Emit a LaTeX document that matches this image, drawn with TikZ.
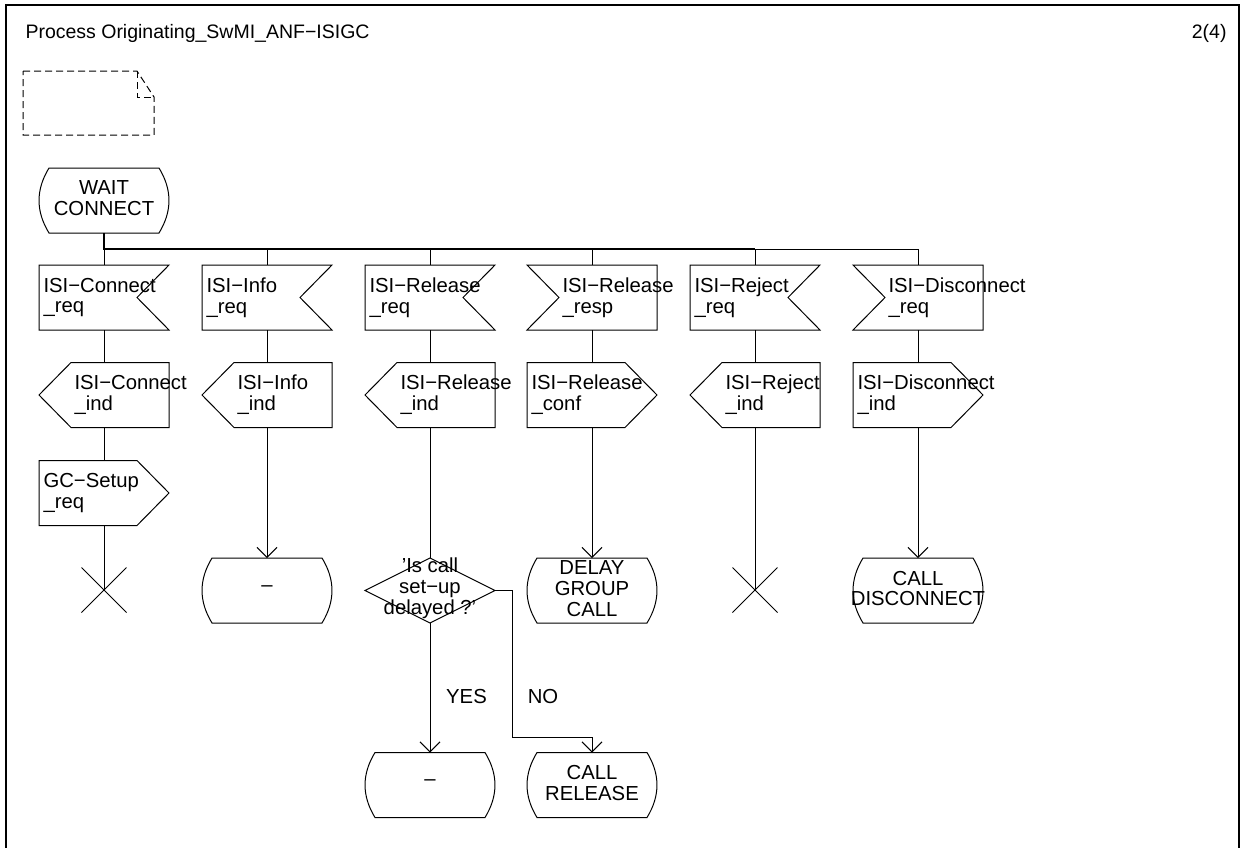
\documentclass[tikz,border=0pt]{standalone}
\usepackage{fontspec}
\setmainfont{Liberation Sans}
\usetikzlibrary{arrows.meta}
\newcommand\labfont{\fontsize{20.3}{20.8}\selectfont}
\newcommand\titlefont{\fontsize{19.5}{20.5}\selectfont}
\tikzset{
  box/.style={draw=none, inner sep=0pt, outer sep=0pt, minimum width=130pt, minimum height=65pt},
  txt/.style={inner sep=0pt, font=\labfont, align=left, anchor=west},
  ctxt/.style={inner sep=0pt, font=\labfont, align=center},
  flow/.style={-{Straight Barb[length=10pt,width=20pt]}},
  docline/.style={dash pattern=on 7pt off 4pt},
}
% SDL state: name, x, y, text
\newcommand\sdlstate[4]{%
  \node[box] (#1) at (#2,#3) {};
  \draw (#2-55,#3-32.5) -- (#2+55,#3-32.5) .. controls (#2+68.3,#3-10.8) and (#2+68.3,#3+10.8) .. (#2+55,#3+32.5) -- (#2-55,#3+32.5) .. controls (#2-68.3,#3+10.8) and (#2-68.3,#3-10.8) .. cycle;
  \node[ctxt] at (#2,#3-2) {#4};
}
% input, notch on the right
\newcommand\sdlinR[4]{%
  \node[box] (#1) at (#2,#3) {};
  \draw (#2-65,#3-32.5) -- (#2+65,#3-32.5) -- (#2+33,#3) -- (#2+65,#3+32.5) -- (#2-65,#3+32.5) -- cycle;
  \node[txt] at (#2-61,#3) {#4};
}
% input, notch on the left
\newcommand\sdlinL[4]{%
  \node[box] (#1) at (#2,#3) {};
  \draw (#2-65,#3-32.5) -- (#2+65,#3-32.5) -- (#2+65,#3+32.5) -- (#2-65,#3+32.5) -- (#2-33,#3) -- cycle;
  \node[txt] at (#2-30,#3) {#4};
}
% output pointing left
\newcommand\sdloutL[4]{%
  \node[box] (#1) at (#2,#3) {};
  \draw (#2+65,#3-32.5) -- (#2-33,#3-32.5) -- (#2-65,#3) -- (#2-33,#3+32.5) -- (#2+65,#3+32.5) -- cycle;
  \node[txt] at (#2-30,#3) {#4};
}
% output pointing right
\newcommand\sdloutR[4]{%
  \node[box] (#1) at (#2,#3) {};
  \draw (#2-65,#3-32.5) -- (#2+33,#3-32.5) -- (#2+65,#3) -- (#2+33,#3+32.5) -- (#2-65,#3+32.5) -- cycle;
  \node[txt] at (#2-61,#3) {#4};
}
% stop symbol
\newcommand\sdlstop[3]{%
  \node[inner sep=0pt, minimum size=45pt] (#1) at (#2,#3) {};
  \draw (#2-22.5,#3-22.5) -- (#2+22.5,#3+22.5) (#2-22.5,#3+22.5) -- (#2+22.5,#3-22.5);
}
\begin{document}
\begin{tikzpicture}[x=1pt, y=-1pt, line width=1pt]
\useasboundingbox (0,0) rectangle (1243,847);
% frame
\draw[line width=1.5pt] (6,870) -- (6,5) -- (1239,5) -- (1239,870);
\node[anchor=base west, inner sep=0pt, font=\titlefont] (title) at (25,38) {Process Originating\_SwMI\_ANF−ISIGC};
\node[anchor=base east, inner sep=0pt, font=\titlefont] (page) at (1227,38) {2(4)};
% comment / text symbol
\draw[docline] (23,71) -- (137,71) -- (154,97) -- (154,135) -- (23,135) -- cycle;
\draw[docline] (137,71) -- (137,97) -- (154,97);

% start state
\sdlstate{s0}{104}{200.5}{WAIT\\CONNECT}
\coordinate (bus) at (104,249);

% row 1 inputs
\sdlinR{i1}{104}{297.5}{ISI−Connect\\\_req}
\sdlinR{i2}{267}{297.5}{ISI−Info\\\_req}
\sdlinR{i3}{430}{297.5}{ISI−Release\\\_req}
\sdlinL{i4}{592}{297.5}{ISI−Release\\\_resp}
\sdlinR{i5}{755}{297.5}{ISI−Reject\\\_req}
\sdlinL{i6}{918}{297.5}{ISI−Disconnect\\\_req}

% row 2 outputs
\sdloutL{o1}{104}{395}{ISI−Connect\\\_ind}
\sdloutL{o2}{267}{395}{ISI−Info\\\_ind}
\sdloutL{o3}{430}{395}{ISI−Release\\\_ind}
\sdloutR{o4}{592}{395}{ISI−Release\\\_conf}
\sdloutL{o5}{755}{395}{ISI−Reject\\\_ind}
\sdloutR{o6}{918}{395}{ISI−Disconnect\\\_ind}

% row 3
\sdloutR{g1}{104}{493}{GC−Setup\\\_req}

% terminations
\sdlstop{x1}{104}{590}
\sdlstate{st2}{267}{590.5}{–}
\node[box] (d3) at (430,590.5) {};
\draw (430,558) -- (495,590.5) -- (430,623) -- (365,590.5) -- cycle;
\node[ctxt] at (430,588.5) {'Is call\\set−up\\delayed ?'};
\sdlstate{st4}{592}{590.5}{DELAY\\GROUP\\CALL}
\sdlstop{x5}{755}{590}
\sdlstate{st6}{918}{590.5}{CALL\\DISCONNECT}
\sdlstate{st3a}{430}{785}{–}
\sdlstate{st3b}{592}{785}{CALL\\RELEASE}

% connectors
\draw[line width=1.8pt] (s0.south) -- (bus) -- (bus -| i5.north);
\foreach \k in {1,...,6} \draw (bus) -| (i\k.north);
\foreach \k in {1,...,6} \draw (i\k.south) -- (o\k.north);
\draw (o1.south) -- (g1.north);
\draw (g1.south) -- (x1.center);
\draw[flow] (o2.south) -- (st2.north);
\draw (o3.south) -- (d3.north);
\draw[flow] (o4.south) -- (st4.north);
\draw (o5.south) -- (x5.center);
\draw[flow] (o6.south) -- (st6.north);
\draw[flow] (d3.south) -- (st3a.north);
\draw[flow] (d3.east) -- ++(17,0) |- ([yshift=15pt]st3b.north) -- (st3b.north);
\node[anchor=base, inner sep=0pt, font=\labfont] (yes) at (466.5,703) {YES};
\node[anchor=base, inner sep=0pt, font=\labfont] (no) at (543,703) {NO};
\end{tikzpicture}
\end{document}
